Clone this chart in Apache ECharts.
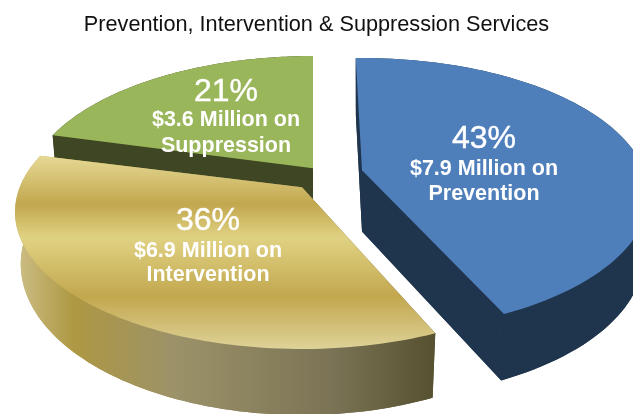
<!DOCTYPE html>
<html><head><meta charset="utf-8">
<style>html,body{margin:0;padding:0;background:#fff}#c{width:633px;height:414px}</style>
<script src="https://cdn.jsdelivr.net/npm/echarts@6/dist/echarts.min.js"></script>
</head><body><div id="c"></div>
<script>
const categories = ['Prevention', 'Intervention', 'Suppression'];
const shares = [43, 36, 21];
const millions = [7.9, 6.9, 3.6];
const titleText = 'Prevention, Intervention & Suppression Services';

// projection of the tilted disc
const disc = {cx: 302, cy: 212, rx: 287, ry: 137, k: -0.18, bottomScale: 0.98};
// per-slice explosion, small perspective corrections, depth, label centre
const sliceLayout = [
  {dx: 60, dy: -17, startTrim: -1.5, endTrim: 0.3, depth: 62, grow: 5,  z: 2, label: [484, 139, 169, 194]},
  {dx: 0,  dy: 0,   startTrim: 2,    endTrim: 0,   depth: 52, grow: 14, z: 3, label: [208, 221, 251, 275]},
  {dx: 11, dy: -19, startTrim: 0.7,  endTrim: 0,   depth: 62, grow: 5,  z: 1, label: [226, 92, 120, 146]}
];
const band = (a, b, stops) => ({type: 'linear', x: 0, y: a, x2: 0, y2: b, global: true,
  colorStops: stops.map(s => ({offset: s[0], color: s[1]}))});
const sweep = (a, b, stops) => ({type: 'linear', x: a, y: 0, x2: b, y2: 0, global: true,
  colorStops: stops.map(s => ({offset: s[0], color: s[1]}))});
const fills = [
  {top: '#4f7fbb', side: '#1f344d'},
  {top: band(155, 352, [[0, '#e6da96'], [0.25, '#c2a74e'], [0.42, '#e0d283'], [0.72, '#c2a74e'], [1, '#e0d59c']]),
   side: sweep(15, 437, [[0, '#cdbf88'], [0.14, '#ae9843'], [0.38, '#9c9269'], [0.75, '#7b7355'], [1, '#55502f']])},
  {top: '#9ab65a', side: '#3f4623'}
];

const total = shares.reduce((a, b) => a + b, 0);
function project(deg, L, drop, scale) {
  const t = deg * Math.PI / 180, x = Math.sin(t), y = -Math.cos(t), k = disc.k;
  const den = 1 + k * y, yn = (y + k) / den, xn = x * Math.sqrt(1 - k * k) / den;
  const d = drop ? L.depth + L.grow * yn : 0;
  return [disc.cx + L.dx + xn * disc.rx * scale, disc.cy + L.dy + yn * disc.ry + d];
}
function apex(L, drop) {
  const d = drop ? L.depth + L.grow * disc.k : 0;
  return [disc.cx + L.dx, disc.cy + L.dy + disc.k * disc.ry + d];
}
function renderItem(params, api) {
  const i = params.dataIndex, L = sliceLayout[i], share = api.value(0);
  let before = 0;
  for (let j = 0; j < i; j++) before += shares[j];
  const a0 = before / total * 360 + L.startTrim, a1 = (before + share) / total * 360 + L.endTrim;
  const topArc = [], botArc = [];
  for (let n = 0; n <= 90; n++) {
    const a = a0 + (a1 - a0) * n / 90;
    topArc.push(project(a, L, false, 1));
    botArc.push(project(a, L, true, disc.bottomScale));
  }
  const A = apex(L, false), B = apex(L, true);
  const poly = (pts, fill, z) => ({type: 'polygon', shape: {points: pts}, z2: z, style: {fill: fill}});
  const text = (s, y, size, weight, z, stroke) => ({type: 'text', z2: z + 10, style: {
    text: s, x: L.label[0], y: y, fill: '#fff', align: 'center', verticalAlign: 'middle',
    stroke: stroke ? '#fff' : null, lineWidth: stroke || 0,
    font: weight + ' ' + size + 'px "Liberation Sans", Arial, sans-serif'}});
  const z = L.z * 10, f = fills[i];
  return {type: 'group', children: [
    poly([B].concat(botArc), f.side, z),
    poly(topArc.concat(botArc.slice().reverse()), f.side, z),
    poly([A, topArc[0], botArc[0], B], f.side, z),
    poly([A, topArc[90], botArc[90], B], f.side, z),
    poly([A].concat(topArc), f.top, z + 1),
    text(share + '%', L.label[1], 32, 'normal', z, 0.4),
    text('$' + millions[i].toFixed(1) + ' Million on', L.label[2], 21.5, 'bold', z),
    text(categories[i], L.label[3], 21.5, 'bold', z)
  ]};
}
const chart = echarts.init(document.getElementById('c'), null, {renderer: 'canvas'});
chart.setOption({
  animation: false,
  backgroundColor: '#fff',
  title: {text: titleText, left: 'center', top: 9, textStyle: {
    fontFamily: '"Liberation Sans", Arial, sans-serif', fontSize: 21.7, fontWeight: 'normal', color: '#111'}},
  series: [{type: 'custom', coordinateSystem: 'none', renderItem: renderItem, silent: true,
    data: shares.map((v, i) => ({name: categories[i], value: [v]}))}]
});
</script></body></html>
